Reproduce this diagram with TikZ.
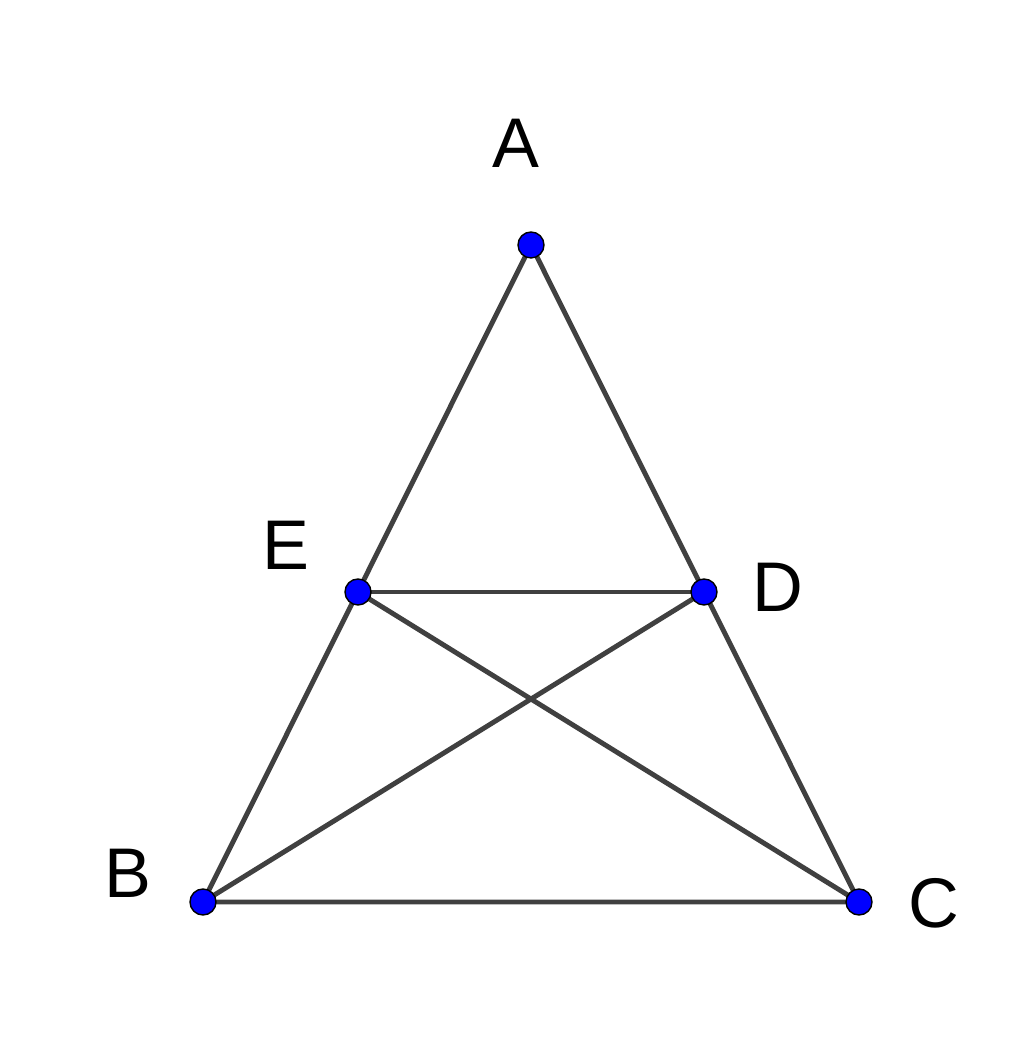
\documentclass[tikz,border=0pt]{standalone}
\usepackage{fontspec}
\setmainfont{Liberation Sans}
\usetikzlibrary{positioning}
\definecolor{segGray}{HTML}{404040}
\definecolor{ptBlue}{HTML}{0000FF}

\tikzset{
  seg/.style = {draw = segGray, line width = 1.4pt},
  pt/.style = {circle, fill = ptBlue, draw = black, line width = 0.4pt,
    inner sep = 0pt, minimum size = 0.26cm},
  lbl/.style = {font = \fontsize{20}{24}\selectfont, inner sep = 0pt}
}

\begin{document}
\begin{tikzpicture}
  % Canvas.
  \useasboundingbox (0,0) rectangle (10.24,10.63);

  % Vertices.
  \coordinate (A) at (5.31,8.18);
  \coordinate (E) at (3.58,4.71);
  \coordinate (D) at (7.04,4.71);
  \coordinate (B) at (2.03,1.61);
  \coordinate (C) at (8.59,1.61);

  % Segments.
  \draw[seg] (A) -- (B) -- (C) -- cycle;
  \draw[seg] (E) -- (D);
  \draw[seg] (E) -- (C);
  \draw[seg] (D) -- (B);

  % Points.
  \foreach \p in {A, E, D, B, C}
    \node[pt] (pt\p) at (\p) {};

  % Labels.
  \node[lbl] (labA) at (5.16,9.20) {A};
  \node[lbl] (labE) at (2.86,5.18) {E};
  \node[lbl] (labD) at (7.78,4.76) {D};
  \node[lbl] (labB) at (1.28,1.90) {B};
  \node[lbl] (labC) at (9.34,1.60) {C};
\end{tikzpicture}
\end{document}
